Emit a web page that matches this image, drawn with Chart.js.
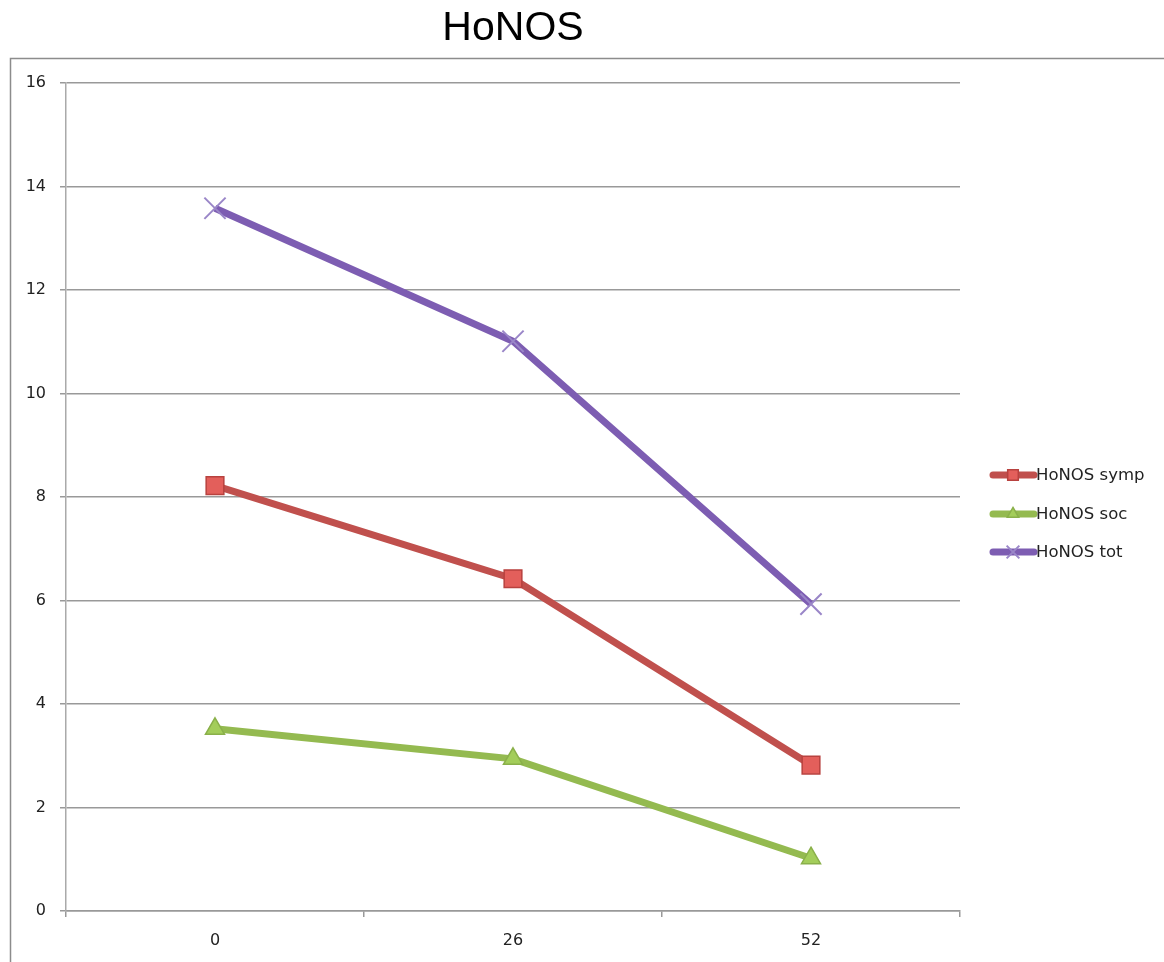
<!DOCTYPE html>
<html>
<head>
<meta charset="utf-8">
<title>HoNOS</title>
<script src="https://cdn.jsdelivr.net/npm/chart.js@4.4.1/dist/chart.umd.min.js"></script>
<style>
  html, body { margin: 0; padding: 0; background: #fff; overflow: hidden; }
</style>
</head>
<body>
<canvas id="line-chart" width="1164" height="962"></canvas>
<script>
// weeks
const labels = ['0', '26', '52'];
// series values
const symp = [8.22, 6.42, 2.82];
const soc = [3.52, 2.94, 1.02];
const tot = [13.58, 11.01, 5.93];

const seriesNames = ['HoNOS symp', 'HoNOS soc', 'HoNOS tot'];
const chartTitle = 'HoNOS';

// frame round the whole chart + the title above it
const framePlugin = {
  id: 'frame',
  beforeDraw(chart) {
    const ctx = chart.ctx;
    ctx.save();
    ctx.strokeStyle = '#8c8c8c';
    ctx.lineWidth = 1.5;
    ctx.strokeRect(10.5, 58.5, 1300, 1000);
    ctx.fillStyle = '#000';
    ctx.font = '41px "Liberation Sans", Arial';
    ctx.textAlign = 'center';
    ctx.textBaseline = 'middle';
    ctx.fillText(chartTitle, 513, 29);
    ctx.restore();
  }
};

// legend on the right: short thick line with the marker on it
const sideLegend = {
  id: 'sideLegend',
  afterDraw(chart) {
    const ctx = chart.ctx;
    const x0 = 990;
    const ys = [475, 514, 552];
    chart.data.datasets.forEach(function (ds, i) {
      const y = ys[i];
      ctx.save();
      ctx.strokeStyle = ds.borderColor;
      ctx.lineWidth = 7;
      ctx.lineCap = 'round';
      ctx.beginPath();
      ctx.moveTo(x0 + 3, y);
      ctx.lineTo(x0 + 44, y);
      ctx.stroke();
      ctx.restore();
      ctx.save();
      ctx.fillStyle = ds.pointBackgroundColor;
      ctx.strokeStyle = ds.pointBorderColor;
      ctx.lineWidth = ds.pointBorderWidth;
      Chart.helpers.drawPoint(ctx, {
        pointStyle: ds.pointStyle,
        radius: ds.pointRadius * 0.6,
        rotation: 0,
        borderWidth: ds.pointBorderWidth
      }, x0 + 23, y);
      ctx.restore();
      ctx.save();
      ctx.fillStyle = '#222';
      ctx.font = '16.5px "DejaVu Sans"';
      ctx.textBaseline = 'middle';
      ctx.fillText(ds.label, x0 + 46, y + 1);
      ctx.restore();
    });
  }
};

new Chart(document.getElementById('line-chart'), {
  type: 'line',
  data: {
    labels: labels,
    datasets: [
      {
        label: seriesNames[0],
        data: symp,
        borderColor: '#C0504D',
        borderWidth: 7,
        pointStyle: 'rect',
        pointRadius: 12.5,
        pointBackgroundColor: '#E35F5B',
        pointBorderColor: '#B8423F',
        pointBorderWidth: 1.5
      },
      {
        label: seriesNames[1],
        data: soc,
        borderColor: '#94BA50',
        borderWidth: 7,
        pointStyle: 'triangle',
        pointRadius: 11,
        pointBackgroundColor: '#A3CD5A',
        pointBorderColor: '#8AB04A',
        pointBorderWidth: 1.5
      },
      {
        label: seriesNames[2],
        data: tot,
        borderColor: '#7D5DB2',
        borderWidth: 7,
        pointStyle: 'crossRot',
        pointRadius: 15,
        pointBackgroundColor: '#9A86C8',
        pointBorderColor: '#9A86C8',
        pointBorderWidth: 2
      }
    ]
  },
  options: {
    responsive: false,
    animation: false,
    elements: {
      line: { tension: 0 }
    },
    layout: {
      padding: { left: 10, right: 204, top: 83, bottom: 13 }
    },
    plugins: {
      legend: { display: false },
      tooltip: { enabled: false },
      title: { display: false }
    },
    scales: {
      x: {
        offset: true,
        afterFit(scale) { scale.height = 38; },
        grid: {
          offset: true,
          drawOnChartArea: false,
          drawTicks: true,
          tickLength: 6,
          color: '#999',
          lineWidth: 1.5
        },
        border: { color: '#999', width: 1.5 },
        ticks: {
          color: '#222',
          padding: 14,
          font: { family: '"DejaVu Sans"', size: 16 }
        }
      },
      y: {
        min: 0,
        max: 16,
        afterFit(scale) { scale.width = 56; },
        grid: {
          color: '#999',
          lineWidth: 1.5,
          tickLength: 6
        },
        border: { color: '#aaa', width: 1.5 },
        ticks: {
          stepSize: 2,
          color: '#222',
          padding: 14,
          font: { family: '"DejaVu Sans"', size: 16 }
        }
      }
    }
  },
  plugins: [framePlugin, sideLegend]
});
</script>
</body>
</html>
